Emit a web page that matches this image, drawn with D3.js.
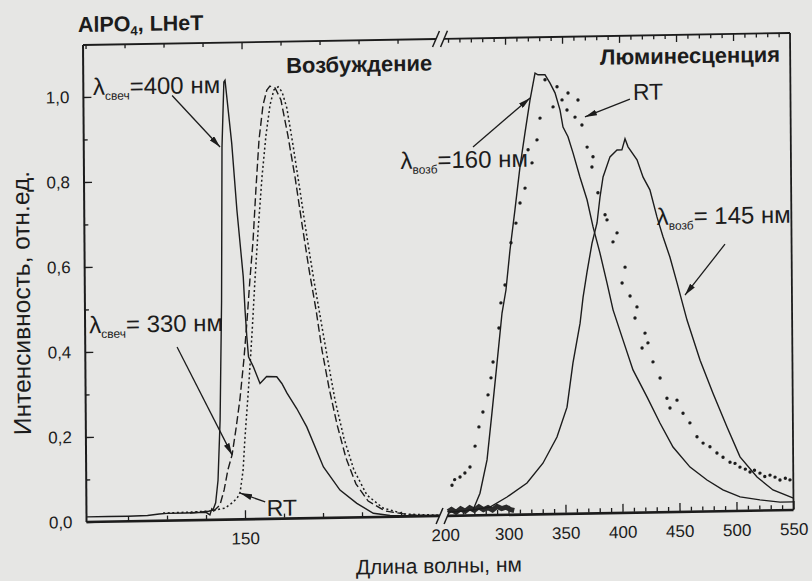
<!DOCTYPE html>
<html><head><meta charset="utf-8">
<script src="https://cdn.jsdelivr.net/npm/d3@7"></script>
<style>
html,body{margin:0;padding:0;background:#e6e6e4;}
svg{display:block;}
text{font-family:"Liberation Sans",Arial,Helvetica,sans-serif;fill:#1c1c1c;}
</style></head><body>
<svg id="chart" width="812" height="581"></svg>
<script>
// ---------- DATA ----------
// Excitation (left part), wavelength in nm, intensity rel. units
const exc400Wl  = [109.5,115,120,125,128,130,135,140,141,141.5,141.8,142.5,143.15,143.8,144.4,144.8,145.4,145.7,147.3,148.5,150.0,150.4,150.8,151.2,152.4,154.1,155.8,158.4,159.7,161.0,163.5,166.0,170.2,174.4,178.7,182.9,187.2,192,200];
const exc400Val = [0.012,0.012,0.012,0.013,0.016,0.017,0.017,0.018,0.012,0.026,0.023,0.04,0.093,0.235,0.515,0.877,1.03,1.034,0.885,0.728,0.571,0.492,0.43,0.382,0.359,0.319,0.335,0.334,0.318,0.295,0.258,0.215,0.12,0.065,0.033,0.009,0.003,0.002,0.002];

const exc330Wl  = [135.9,142.05,143.6,144.7,145.7,146.8,147.8,148.9,150.0,150.9,151.7,152.6,153.4,154.3,155.4,156.4,157.2,158.5,160.0,161.7,163.5,165.2,166.9,168.6,170.05,171.8,173.8,176.0,178.5,181.6,185.9,192.3,199.5];
const exc330Val = [0.017,0.021,0.035,0.07,0.117,0.152,0.21,0.281,0.375,0.469,0.563,0.657,0.774,0.892,0.974,1.009,1.018,1.014,0.985,0.902,0.801,0.69,0.584,0.49,0.395,0.305,0.218,0.14,0.079,0.038,0.014,0.004,0.0];

const excRTWl  = [129.0,135.9,141.0,144.9,146.7,148.0,148.8,149.6,150.1,150.7,151.3,152.2,153.0,153.9,155.0,156.1,157.2,158.2,159.3,160.3,161.5,163.0,164.7,166.4,168.1,169.8,171.6,173.3,175.5,178.0,181.3,185.4,191.0,199.5];
const excRTVal = [0.018,0.019,0.021,0.027,0.039,0.05,0.064,0.116,0.187,0.257,0.327,0.445,0.563,0.68,0.805,0.903,0.974,1.009,1.016,1.004,0.966,0.879,0.772,0.662,0.56,0.466,0.367,0.277,0.187,0.112,0.052,0.021,0.006,0.002];

// Luminescence (right part)
const lum160Wl  = [246.5,250.4,261.8,268.9,275.1,281.5,286.1,290.9,295.6,299.2,303.0,307.6,312.3,316.9,321.5,326.1,328.7,334.8,339.2,343.5,347.8,350.3,354.6,358.9,364.8,370.9,376.0,381.9,387.9,393.0,401.5,410.1,422.2,433.4,444.7,459.5,474.3,488.2,503.2,520.6,538.2,550];
const lum160Val = [0.01,0.009,0.011,0.013,0.052,0.13,0.24,0.358,0.475,0.529,0.623,0.717,0.818,0.898,0.975,1.038,1.034,1.034,1.014,0.991,0.95,0.91,0.887,0.849,0.792,0.738,0.674,0.612,0.541,0.478,0.407,0.336,0.272,0.21,0.153,0.105,0.074,0.05,0.033,0.025,0.019,0.019];

const lum145Wl  = [246.5,260,268.9,283.8,298.8,316.4,330.5,343.0,352.0,357.5,364.0,366.8,370.4,375.0,379.5,382.3,385.1,391.3,397.5,401.8,404.6,407.2,415.0,420.2,426.1,432.1,437.3,443.2,449.3,457.8,469.0,480.1,492.2,503.4,518.2,532.1,550];
const lum145Val = [0.01,0.011,0.013,0.019,0.042,0.074,0.12,0.181,0.251,0.355,0.448,0.509,0.568,0.636,0.683,0.744,0.791,0.838,0.854,0.854,0.88,0.861,0.83,0.789,0.759,0.695,0.648,0.6,0.539,0.451,0.356,0.278,0.198,0.127,0.079,0.048,0.028];

const lumRTWl  = [250.6,253,257.7,262,266.5,271.1,274.6,278.2,282.8,285.5,287.4,292.8,294.7,298.4,303.9,308.4,312.1,316.6,319.5,322.9,327.4,330.2,334.8,341.7,345.3,349.6,353.9,354.9,360.9,363.6,366.9,371.3,375.4,376.4,380.5,386.6,388.3,393.4,397.0,401.1,403.8,408.0,412.2,414.0,418.2,420.9,423.4,427.7,433.8,439.7,442.3,448.5,453.7,459.7,465.8,471.1,477.1,483.2,488.5,494.6,499,503.3,508,512.1,516,520.8,525,529.6,534,538.3,543,547.1];
const lumRTVal = [0.072,0.085,0.091,0.1,0.114,0.163,0.208,0.243,0.283,0.323,0.36,0.44,0.499,0.541,0.64,0.686,0.733,0.768,0.858,0.827,0.881,0.932,1.022,0.958,1.005,0.974,0.95,0.99,0.933,0.973,0.914,0.862,0.815,0.839,0.754,0.702,0.69,0.638,0.659,0.541,0.578,0.51,0.458,0.484,0.387,0.422,0.399,0.354,0.316,0.268,0.245,0.263,0.232,0.209,0.176,0.161,0.152,0.137,0.127,0.115,0.112,0.103,0.098,0.091,0.095,0.088,0.08,0.083,0.078,0.071,0.075,0.071];

// noisy dark trace on the baseline at the start of the luminescence part
const blobWl  = [247,250,254,258,262,266,270,274,278,282,286,290,294,298,302,305];
const blobVal = [0.01,0.015,0.008,0.016,0.01,0.018,0.012,0.02,0.013,0.018,0.012,0.02,0.015,0.018,0.012,0.01];

// axes ticks
const yMajor = [0,0.2,0.4,0.6,0.8,1.0];
const yMinor = [0.1,0.3,0.5,0.7,0.9];
const xLMajor = [150];
const xLMinor = [120,130,140,160,170,180,190];
const xRMajor = [300,350,400,450,500];
const xRMinor = [260,270,280,290,310,320,330,340,360,370,380,390,410,420,430,440,460,470,480,490,510,520,530,540];

// ---------- LAYOUT ----------
const svg = d3.select('#chart');
svg.append('rect').attr('width',812).attr('height',581).attr('fill','#e6e6e4');
const g = svg.append('g').attr('transform','matrix(1,-0.017,0.0074,1,-2.29,6.44)');

const F = {left:85, right:792, top:40, bottom:516};
const gapA = 438, gapB = 446;
const xL = d3.scaleLinear().domain([150,200]).range([243.5,438.5]);
const xR = d3.scaleLinear().domain([300,550]).range([507,792]);
const y  = d3.scaleLinear().domain([0,1]).range([517,92]);
const ru = d3.formatLocale({decimal:",",thousands:" ",grouping:[3],currency:["",""]});
const fmt = ru.format(".1f");
const ink = '#1c1c1c';

const defs = svg.append('defs');
defs.append('marker').attr('id','ah').attr('viewBox','0 0 12 6').attr('refX',12).attr('refY',3)
  .attr('markerWidth',12).attr('markerHeight',6).attr('markerUnits','userSpaceOnUse').attr('orient','auto')
  .append('path').attr('d','M0,0 L12,3 L0,6 Z').attr('fill',ink);

// ---------- AXES ----------
function styleAxis(sel){ sel.select('.domain').remove(); sel.selectAll('line').attr('stroke',ink).attr('stroke-width',1.3); sel.selectAll('text').attr('font-size',17).attr('fill',ink).attr('font-family','"Liberation Sans",Arial,sans-serif'); }

g.append('g').attr('transform',`translate(${F.left},0)`).call(d3.axisLeft(y).tickValues(yMajor).tickSize(-8).tickPadding(14).tickFormat(fmt)).call(styleAxis);
g.append('g').attr('transform',`translate(${F.left},0)`).call(d3.axisLeft(y).tickValues(yMinor).tickSize(-4).tickFormat('')).call(styleAxis);
g.append('g').attr('transform',`translate(0,${F.bottom})`).call(d3.axisBottom(xL).tickValues(xLMajor).tickSize(-8).tickPadding(14).tickFormat(d3.format('d'))).call(styleAxis);
g.append('g').attr('transform',`translate(0,${F.bottom})`).call(d3.axisBottom(xL).tickValues(xLMinor).tickSize(-4).tickFormat('')).call(styleAxis);
g.append('g').attr('transform',`translate(0,${F.bottom})`).call(d3.axisBottom(xR).tickValues(xRMajor.concat([550])).tickSize(-8).tickPadding(14).tickFormat(d3.format('d'))).call(styleAxis);
g.append('g').attr('transform',`translate(0,${F.bottom})`).call(d3.axisBottom(xR).tickValues(xRMinor).tickSize(-4).tickFormat('')).call(styleAxis);
g.append('g').attr('transform',`translate(5,${F.bottom})`).call(d3.axisBottom(xL).tickValues([200]).tickSize(0).tickPadding(14).tickFormat(d3.format('d'))).call(styleAxis);
g.append('g').attr('transform',`translate(0,${F.top})`).call(d3.axisTop(xL).tickValues(xLMajor).tickSize(-7).tickFormat('')).call(styleAxis);
g.append('g').attr('transform',`translate(0,${F.top})`).call(d3.axisTop(xL).tickValues(xLMinor.concat([110])).tickSize(-4).tickFormat('')).call(styleAxis);
g.append('g').attr('transform',`translate(0,${F.top})`).call(d3.axisTop(xR).tickValues(xRMajor).tickSize(-7).tickFormat('')).call(styleAxis);
g.append('g').attr('transform',`translate(0,${F.top})`).call(d3.axisTop(xR).tickValues(xRMinor.concat([250])).tickSize(-4).tickFormat('')).call(styleAxis);

// frame with breaks
const fr = g.append('g').attr('stroke',ink).attr('fill','none');
fr.append('line').attr('x1',F.left).attr('x2',F.left).attr('y1',F.top).attr('y2',F.bottom+1).attr('stroke-width',2);
fr.append('line').attr('x1',F.right).attr('x2',F.right).attr('y1',F.top).attr('y2',F.bottom+1).attr('stroke-width',1.8);
fr.append('line').attr('x1',F.left).attr('x2',gapA).attr('y1',F.top).attr('y2',F.top).attr('stroke-width',1.8);
fr.append('line').attr('x1',gapB).attr('x2',F.right).attr('y1',F.top).attr('y2',F.top).attr('stroke-width',1.8);
fr.append('line').attr('x1',F.left).attr('x2',gapA).attr('y1',F.bottom+1).attr('y2',F.bottom+1).attr('stroke-width',2.6);
fr.append('line').attr('x1',gapB).attr('x2',F.right).attr('y1',F.bottom+1).attr('y2',F.bottom+1).attr('stroke-width',2.6);
[F.top, F.bottom+1].forEach(v=>{
  [gapA, gapB].forEach(u=>{
    fr.append('line').attr('x1',u-3.5).attr('y1',v+8).attr('x2',u+3.5).attr('y2',v-8).attr('stroke-width',1.5);
  });
});

// ---------- CURVES ----------
function zipD(a,b){return a.map((w,i)=>[w,b[i]]);}
const lineL = d3.line().x(d=>xL(d[0])).y(d=>y(d[1]));
const lineR = d3.line().x(d=>xR(d[0])).y(d=>y(d[1]));

g.append('path').attr('d',lineL(zipD(excRTWl,excRTVal))).attr('fill','none').attr('stroke',ink).attr('stroke-width',1.5).attr('stroke-dasharray','2,2.6');
g.append('path').attr('d',lineL(zipD(exc330Wl,exc330Val))).attr('fill','none').attr('stroke',ink).attr('stroke-width',1.4).attr('stroke-dasharray','8,3.5');
g.append('path').attr('d',lineL(zipD(exc400Wl,exc400Val))).attr('fill','none').attr('stroke',ink).attr('stroke-width',1.4);

g.append('path').attr('d',lineR(zipD(blobWl,blobVal))).attr('fill','none').attr('stroke','#2a2a2a').attr('stroke-width',5);
g.append('path').attr('d',lineR(zipD(lum160Wl,lum160Val))).attr('fill','none').attr('stroke',ink).attr('stroke-width',1.4);
g.append('path').attr('d',lineR(zipD(lum145Wl,lum145Val))).attr('fill','none').attr('stroke',ink).attr('stroke-width',1.4);
g.append('g').selectAll('circle').data(zipD(lumRTWl,lumRTVal)).join('circle')
  .attr('cx',d=>xR(d[0])).attr('cy',d=>y(d[1])).attr('r',1.7).attr('fill',ink);

// ---------- ANNOTATIONS ----------
function arrow(sx,x0,v0,x1,v1){
  g.append('line').attr('x1',sx(x0)).attr('y1',y(v0)).attr('x2',sx(x1)).attr('y2',y(v1))
   .attr('stroke',ink).attr('stroke-width',1.3).attr('marker-end','url(#ah)');
}
function lam(sx,xv,yv,sub,rest,anchor){
  const t = g.append('text').attr('x',sx(xv)).attr('y',y(yv)).attr('font-size',24).attr('text-anchor',anchor||'start');
  t.append('tspan').text('λ');
  t.append('tspan').attr('font-size',12).attr('dy',5).text(sub);
  t.append('tspan').attr('dy',-5).text(rest);
}
lam(xL,111.8,1.004,'свеч','=400 нм');
arrow(xL,132.1,1.0,144.3,0.877);
lam(xL,110.4,0.444,'свеч','= 330 нм');
arrow(xL,132.9,0.408,146.8,0.152);
g.append('text').attr('x',xL(155.6)).attr('y',y(0.007)).attr('font-size',23).text('RT');
arrow(xL,155.2,0.04,148.8,0.062);

g.append('text').attr('x',xL(161.4)).attr('y',y(1.048)).attr('font-size',22).attr('font-weight','bold').text('Возбуждение');
g.append('text').attr('x',xR(541.2)).attr('y',y(1.055)).attr('font-size',22).attr('font-weight','bold').attr('text-anchor','end').text('Люминесценция');

g.append('text').attr('x',xR(411.8)).attr('y',y(0.971)).attr('font-size',23).text('RT');
arrow(xR,409.2,0.973,369.6,0.933);
lam(xR,319.3,0.818,'возб','=160 нм','end');
arrow(xR,271.2,0.867,321.6,0.98);
lam(xR,549.5,0.676,'возб','= 145 нм','end');
arrow(xR,491.6,0.628,456.2,0.51);

const tt = g.append('text').attr('x',80).attr('y',27).attr('font-size',21.5).attr('font-weight','bold');
tt.append('tspan').text('AlPO');
tt.append('tspan').attr('font-size',13).attr('dy',4).text('4');
tt.append('tspan').attr('dy',-4).text(', LHeT');

g.append('text').attr('x',437).attr('y',574).attr('font-size',21).attr('text-anchor','middle').text('Длина волны, нм');
g.append('text').attr('transform','translate(30,297) rotate(-90)').attr('font-size',24.5).attr('text-anchor','middle').text('Интенсивность, отн.ед.');
</script>
</body></html>
